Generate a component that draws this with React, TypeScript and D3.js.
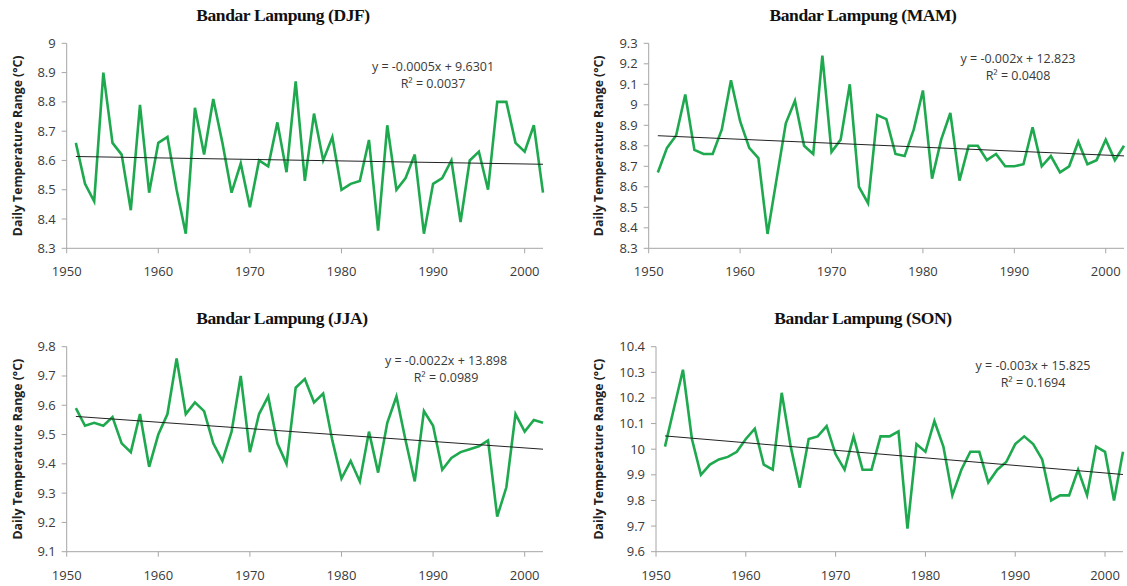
import React from 'react';
import * as d3 from 'd3';

// years 1951..2002
const years = d3.range(1951, 2003);

const djfValues = [
  8.66, 8.52, 8.46, 8.90, 8.66, 8.62, 8.43, 8.79, 8.49, 8.66,
  8.68, 8.50, 8.35, 8.78, 8.62, 8.81, 8.66, 8.49, 8.59, 8.44,
  8.60, 8.58, 8.73, 8.56, 8.87, 8.53, 8.76, 8.60, 8.68, 8.50,
  8.52, 8.53, 8.67, 8.36, 8.72, 8.50, 8.54, 8.62, 8.35, 8.52,
  8.54, 8.60, 8.39, 8.60, 8.63, 8.50, 8.80, 8.80, 8.66, 8.63,
  8.72, 8.49,
];

const mamValues = [
  8.67, 8.79, 8.85, 9.05, 8.78, 8.76, 8.76, 8.88, 9.12, 8.92,
  8.79, 8.74, 8.37, 8.64, 8.91, 9.02, 8.80, 8.76, 9.24, 8.77,
  8.83, 9.10, 8.60, 8.52, 8.95, 8.93, 8.76, 8.75, 8.88, 9.07,
  8.64, 8.83, 8.96, 8.63, 8.80, 8.80, 8.73, 8.76, 8.70, 8.70,
  8.71, 8.89, 8.70, 8.75, 8.67, 8.70, 8.82, 8.71, 8.73, 8.83,
  8.73, 8.80,
];

const jjaValues = [
  9.59, 9.53, 9.54, 9.53, 9.56, 9.47, 9.44, 9.57, 9.39, 9.50,
  9.57, 9.76, 9.57, 9.61, 9.58, 9.47, 9.41, 9.51, 9.70, 9.44,
  9.57, 9.63, 9.47, 9.40, 9.66, 9.69, 9.61, 9.64, 9.48, 9.35,
  9.41, 9.34, 9.51, 9.37, 9.54, 9.63, 9.48, 9.34, 9.58, 9.53,
  9.38, 9.42, 9.44, 9.45, 9.46, 9.48, 9.22, 9.32, 9.57, 9.51,
  9.55, 9.54,
];

const sonValues = [
  10.01, 10.16, 10.31, 10.04, 9.90, 9.94, 9.96, 9.97, 9.99, 10.04,
  10.08, 9.94, 9.92, 10.22, 10.01, 9.85, 10.04, 10.05, 10.09, 9.98,
  9.92, 10.05, 9.92, 9.92, 10.05, 10.05, 10.07, 9.69, 10.02, 9.99,
  10.11, 10.01, 9.82, 9.92, 9.99, 9.99, 9.87, 9.92, 9.95, 10.02,
  10.05, 10.02, 9.96, 9.80, 9.82, 9.82, 9.92, 9.82, 10.01, 9.99,
  9.80, 9.99,
];

const djfTicks = [8.3, 8.4, 8.5, 8.6, 8.7, 8.8, 8.9, 9];
const mamTicks = [8.3, 8.4, 8.5, 8.6, 8.7, 8.8, 8.9, 9, 9.1, 9.2, 9.3];
const jjaTicks = [9.1, 9.2, 9.3, 9.4, 9.5, 9.6, 9.7, 9.8];
const sonTicks = [9.6, 9.7, 9.8, 9.9, 10, 10.1, 10.2, 10.3, 10.4];
const xTicks = [1950, 1960, 1970, 1980, 1990, 2000];

const titles = [
  'Bandar Lampung (DJF)',
  'Bandar Lampung (MAM)',
  'Bandar Lampung (JJA)',
  'Bandar Lampung (SON)',
];
const equations = [
  'y = -0.0005x + 9.6301',
  'y = -0.002x + 12.823',
  'y = -0.0022x + 13.898',
  'y = -0.003x + 15.825',
];
const rSquared = ['0.0037', '0.0408', '0.0989', '0.1694'];

const seriesList = [djfValues, mamValues, jjaValues, sonValues];
const tickList = [djfTicks, mamTicks, jjaTicks, sonTicks];

// plot boxes / text anchors in page pixels
const boxes = [
  { left: 66.7, right: 543, top: 43.3, bottom: 248.3, titleX: 283, titleY: 21, eqX: 433, eqY: 71, labelX: 22 },
  { left: 648.7, right: 1124, top: 43.3, bottom: 248.3, titleX: 863, titleY: 21, eqX: 1018, eqY: 63, labelX: 603 },
  { left: 66.7, right: 543, top: 346.7, bottom: 551.7, titleX: 282, titleY: 324, eqX: 446, eqY: 365, labelX: 22 },
  { left: 656, right: 1123, top: 346.7, bottom: 551.7, titleX: 863, titleY: 324, eqX: 1033, eqY: 370, labelX: 603 },
];

const GREEN = '#1fa94f';
const AXIS = '#a6a6a6';
const TEXT = '#3a3a3a';
const SANS = "'Open Sans', sans-serif";

const fmt = (v: number) => (Number.isInteger(v) ? String(v) : v.toFixed(1));

const linearFit = (xs: number[], ys: number[]) => {
  const mx = d3.mean(xs) as number;
  const my = d3.mean(ys) as number;
  const num = d3.sum(xs, (x, i) => (x - mx) * (ys[i] - my));
  const den = d3.sum(xs, (x) => (x - mx) * (x - mx));
  const slope = num / den;
  return { slope, intercept: my - slope * mx };
};

const Panel = ({ idx }: { idx: number }) => {
  const b = boxes[idx];
  const values = seriesList[idx];
  const ticks = tickList[idx];

  const x = d3.scaleLinear().domain([1950, 2002]).range([b.left, b.right]);
  const y = d3.scaleLinear().domain([ticks[0], ticks[ticks.length - 1]]).range([b.bottom, b.top]);

  const line = d3.line<number>()
    .x((_, i) => x(years[i]))
    .y((d) => y(d));

  const fit = linearFit(years, values);
  const x0 = years[0];
  const x1 = years[years.length - 1];

  return (
    <g>
      <text x={b.titleX} y={b.titleY} textAnchor="middle"
        style={{ fontFamily: "'Liberation Serif', 'Times New Roman', serif", fontWeight: 'bold', fontSize: 17.5, letterSpacing: '-0.4px' }}
        fill="#111">
        {titles[idx]}
      </text>

      {/* y axis */}
      <line x1={b.left} x2={b.left} y1={b.top} y2={b.bottom} stroke={AXIS} strokeWidth={1} />
      {ticks.map((t) => (
        <g key={t}>
          <line x1={b.left - 5} x2={b.left} y1={y(t)} y2={y(t)} stroke={AXIS} strokeWidth={1} />
          <text x={b.left - 11} y={y(t) + 4.5} textAnchor="end"
            style={{ fontFamily: SANS, fontSize: 13 }} fill={TEXT}>
            {fmt(t)}
          </text>
        </g>
      ))}

      {/* x axis */}
      <line x1={b.left} x2={b.right} y1={b.bottom} y2={b.bottom} stroke={AXIS} strokeWidth={1} />
      {xTicks.map((t) => (
        <g key={t}>
          <line x1={x(t)} x2={x(t)} y1={b.bottom} y2={b.bottom + 5} stroke={AXIS} strokeWidth={1} />
          <text x={x(t)} y={b.bottom + 28} textAnchor="middle"
            style={{ fontFamily: SANS, fontSize: 13 }} fill={TEXT}>
            {t}
          </text>
        </g>
      ))}

      <text transform={`translate(${b.labelX}, ${(b.top + b.bottom) / 2}) rotate(-90)`} textAnchor="middle"
        style={{ fontFamily: SANS, fontSize: 12.3, fontWeight: 'bold' }} fill="#222">
        Daily Temperature Range (°C)
      </text>

      <path d={line(values) || ''} fill="none" stroke={GREEN} strokeWidth={2.6} strokeLinejoin="miter" />

      <line x1={x(x0)} x2={x(x1)}
        y1={y(fit.intercept + fit.slope * x0)} y2={y(fit.intercept + fit.slope * x1)}
        stroke="#222" strokeWidth={1} />

      <text x={b.eqX} y={b.eqY} textAnchor="middle" style={{ fontFamily: SANS, fontSize: 12.5 }} fill={TEXT}>
        {equations[idx]}
      </text>
      <text x={b.eqX} y={b.eqY + 17} textAnchor="middle" style={{ fontFamily: SANS, fontSize: 12.5 }} fill={TEXT}>
        R² = {rSquared[idx]}
      </text>
    </g>
  );
};

export default function App() {
  return (
    <div style={{ position: 'absolute', left: 0, top: 0, width: 1127, height: 586, background: '#fff' }}>
      <svg width={1127} height={586} style={{ display: 'block' }}>
        <rect width={1127} height={586} fill="#fff" />
        {[0, 1, 2, 3].map((i) => <Panel key={i} idx={i} />)}
      </svg>
    </div>
  );
}
